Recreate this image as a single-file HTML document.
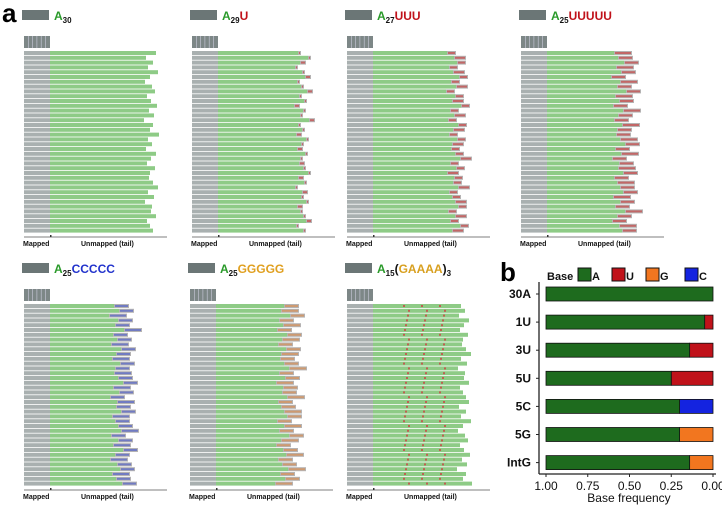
<!DOCTYPE html>
<html><head><meta charset="utf-8">
<style>
body{margin:0;background:#fff;width:722px;height:506px;overflow:hidden;font-family:"Liberation Sans",Arial,sans-serif;}
svg{display:block}
</style></head>
<body>
<svg id="fig" width="722" height="506" viewBox="0 0 722 506">
<text x="2" y="22" font-size="26" font-weight="bold">a</text>
<g id="reads"></g>
<g id="chart"></g>
</svg>
<script>
// ---- Panel b data ----
const categories = ["30A","1U","3U","5U","5C","5G","IntG"];
const fracA = [1.00,0.95,0.86,0.75,0.80,0.80,0.86];
const fracU = [0.00,0.05,0.14,0.25,0,0,0];
const fracG = [0,0,0,0,0,0.20,0.14];
const fracC = [0,0,0,0,0.20,0,0];
const tickValues = [1.00,0.75,0.50,0.25,0.00];
const tickLabels = ["1.00","0.75","0.50","0.25","0.00"];
const legendKeys = ["A","U","G","C"];
const colors = {A:"#1e6b1e",U:"#c0121a",G:"#f2761f",C:"#1423e0"};

const NS="http://www.w3.org/2000/svg";
function mk(tag,attrs,parent){const e=document.createElementNS(NS,tag);for(const k in attrs)e.setAttribute(k,attrs[k]);parent.appendChild(e);return e;}
const chart=document.getElementById('chart');
const x0=546,x1=713;
const xs=v=>x1-(x1-x0)*v; // reversed axis
const ys=i=>294+i*28.1;
const bh=14;
let t=mk('text',{x:500,y:281,'font-size':26,'font-weight':'bold'},chart);t.textContent='b';

// legend
t=mk('text',{x:547,y:280,'font-size':11,'font-weight':'bold',fill:'#111'},chart);t.textContent='Base';

const lx=[578,612,646,685];
legendKeys.forEach((k,i)=>{
 const g=mk('g',{},chart);
 
 
 mk('rect',{x:lx[i],y:268,width:13,height:13,fill:colors[k],stroke:'#111','stroke-width':1},g);
 const tt=mk('text',{x:lx[i]+14,y:280,'font-size':11,'font-weight':'bold',fill:'#111'},g);tt.textContent=k;
});
// axes
let a=mk('line',{x1:539,y1:282,x2:539,y2:474,stroke:'#222','stroke-width':1.3},chart);

a=mk('line',{x1:539,y1:474,x2:716,y2:474,stroke:'#222','stroke-width':1.3},chart);

tickValues.forEach((v,i)=>{
 mk('line',{x1:xs(v),y1:474,x2:xs(v),y2:477,stroke:'#222'},chart);
 const tt=mk('text',{x:xs(v),y:490,'font-size':12,'text-anchor':'middle',fill:'#111'},chart);tt.textContent=tickLabels[i];
 
});
t=mk('text',{x:629,y:502,'font-size':12,'text-anchor':'middle',fill:'#111'},chart);t.textContent='Base frequency';

categories.forEach((c,i)=>{
 const y=ys(i);
 mk('line',{x1:536,y1:y,x2:539,y2:y,stroke:'#222'},chart);
 const tt=mk('text',{x:531,y:y+4,'font-size':12,'font-weight':'bold','text-anchor':'end',fill:'#111'},chart);tt.textContent=c;
 
 let cum=0;
 const segs=[["U",fracU[i]],["G",fracG[i]],["C",fracC[i]]];
 segs.forEach(([k,v])=>{ if(v>0){
   const r=mk('rect',{x:xs(cum+v),y:y-bh/2,width:xs(cum)-xs(cum+v),height:bh,fill:colors[k],stroke:'#111','stroke-width':0.8},chart);
   
   cum+=v;}});
 const r=mk('rect',{x:xs(cum+fracA[i]),y:y-bh/2,width:xs(cum)-xs(cum+fracA[i]),height:bh,fill:colors.A,stroke:'#111','stroke-width':0.8},chart);
 
});

// ---- Panel a read schematics ----
const panels=[
 {x:24,y:8,lab:[["A","#2a9a2a"],["30","#111",1]],tail:0,tc:"#c33",len:100},
 {x:192,y:8,lab:[["A","#2a9a2a"],["29","#111",1],["U","#c0121a"]],tail:1,tc:"#c33",len:85},
 {x:347,y:8,lab:[["A","#2a9a2a"],["27","#111",1],["UUU","#c0121a"]],tail:3,tc:"#c33",len:88},
 {x:521,y:8,lab:[["A","#2a9a2a"],["25","#111",1],["UUUUU","#c0121a"]],tail:5,tc:"#c33",len:85},
 {x:24,y:261,lab:[["A","#2a9a2a"],["25","#111",1],["CCCCC","#2233cc"]],tail:5,tc:"#45c",len:80},
 {x:190,y:261,lab:[["A","#2a9a2a"],["25","#111",1],["GGGGG","#e0a020"]],tail:5,tc:"#d84",len:80},
 {x:347,y:261,lab:[["A","#2a9a2a"],["15","#111",1],["(","#111"],["GAAAA","#d8a020"],[")","#111"],["3","#111",1]],tail:0,tc:"#c44",len:90,dots:true}
];
const jitter=[6,-4,3,-2,8,0,-5,2,5,-3,1,7,-1,4,-6,3,0,9,-2,2,-4,6,1,-3,5,0,-1,3,8,-2,4,-5,2,1,6,-3,0,3];
const reads=document.getElementById('reads');
panels.forEach((p,pi)=>{
 const g=mk('g',{},reads);
 
 
 mk('rect',{x:p.x-2,y:p.y+2,width:27,height:10,fill:'#6b7676'},g);
 const tx=mk('text',{x:p.x+30,y:p.y+12,'font-size':12,'font-weight':'bold'},g);
 p.lab.forEach(([s,c,sub])=>{const ts=mk('tspan',{fill:c},tx);ts.textContent=s;if(sub){ts.setAttribute('font-size',8);ts.setAttribute('dy',3);}else if(tx.childNodes.length>1){ts.setAttribute('dy',tx.lastSub?-3:0);} tx.lastSub=!!sub;});
 mk('rect',{x:p.x,y:p.y+28,width:26,height:12,fill:'#7d8787'},g);
 for(let k=1;k<6;k++)mk('line',{x1:p.x+k*4.3,y1:p.y+28,x2:p.x+k*4.3,y2:p.y+40,stroke:'#ccd','stroke-width':0.6},g);
 const n=38;
 for(let r=0;r<n;r++){
  const y=p.y+43+r*4.8;
  const L=p.len+jitter[(r+pi*3)%jitter.length];
  mk('rect',{x:p.x,y:y,width:26,height:4,fill:'#a9b0b0'},g);
  mk('rect',{x:p.x+26,y:y,width:L-p.tail*3,height:4,fill:'#8ecb86'},g);
  if(p.tail>0){
   const tl=p.tail*3+((r*7+pi)%3===0?3:0);
   mk('rect',{x:p.x+26+L-p.tail*3,y:y,width:tl,height:4,fill:'#b5b3b3'},g);
   mk('rect',{x:p.x+27+L-p.tail*3,y:y+1,width:tl-2,height:2,fill:p.tc,opacity:0.6},g);
  }
  if(p.dots){for(let d=0;d<3;d++){mk('rect',{x:p.x+26+30+d*18+((r*5)%6),y:y+1,width:2,height:2,fill:p.tc,opacity:0.8},g);}}
 }
 const by=p.y+229;
 mk('line',{x1:p.x,y1:by,x2:p.x+143,y2:by,stroke:'#555','stroke-width':0.8},g);
 mk('rect',{x:p.x+26,y:by-2,width:1.5,height:2,fill:'#333'},g);
 let tt=mk('text',{x:p.x-1,y:by+9,'font-size':7,'font-weight':'bold',fill:'#111'},g);tt.textContent='Mapped';
 tt=mk('text',{x:p.x+57,y:by+9,'font-size':7,'font-weight':'bold',fill:'#111'},g);tt.textContent='Unmapped (tail)';
});
</script>
</body></html>
